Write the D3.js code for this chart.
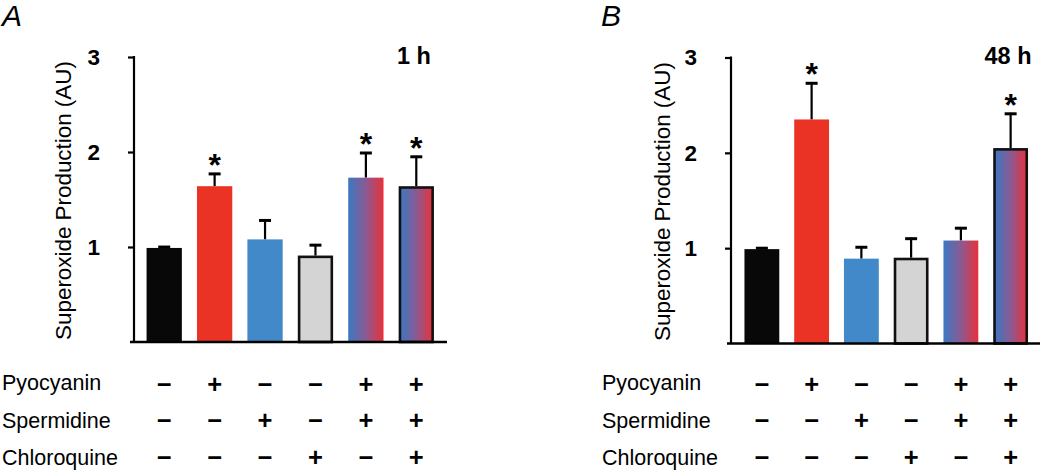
<!DOCTYPE html>
<html>
<head>
<meta charset="utf-8">
<script src="https://cdn.jsdelivr.net/npm/d3@7"></script>
<style>
  html, body { margin: 0; padding: 0; background: #fff; }
  svg { display: block; }
  text { font-family: "Liberation Sans", Arial, Helvetica, sans-serif; fill: #000; }
</style>
</head>
<body>
<svg id="chart" width="1050" height="472"></svg>
<script>
// ---------------- DATA ----------------
const groups = ["Control", "Pyocyanin", "Spermidine", "Chloroquine", "Pyo+Spd", "Pyo+Spd+CQ"];
const treatmentNames = ["Pyocyanin", "Spermidine", "Chloroquine"];
const pyocyaninRow   = ["−", "+", "−", "−", "+", "+"];
const spermidineRow  = ["−", "−", "+", "−", "+", "+"];
const chloroquineRow = ["−", "−", "−", "+", "−", "+"];

const means1h  = [0.99, 1.64, 1.08, 0.91, 1.73, 1.64];
const errors1h = [0.02, 0.14, 0.21, 0.12, 0.27, 0.32];
const signif1h = [false, true, false, false, true, true];

const means48h  = [0.99, 2.35, 0.89, 0.90, 1.08, 2.05];
const errors48h = [0.02, 0.39, 0.13, 0.21, 0.14, 0.37];
const signif48h = [false, true, false, false, false, true];

const yTicks = [1, 2, 3];
const yTitle = "Superoxide Production (AU)";
const panelLetters = ["A", "B"];
const timeLabels = ["1 h", "48 h"];

// ---------------- STYLE ----------------
const barStyles = [
  { fill: "#070807", stroke: null },
  { fill: "#ea3324", stroke: null },
  { fill: "#4189c9", stroke: null },
  { fill: "#d4d4d4", stroke: "#111" },
  { fill: "url(#gradBR)", stroke: null },
  { fill: "url(#gradBR)", stroke: "#111" }
];

const svg = d3.select("#chart");
const defs = svg.append("defs");
const grad = defs.append("linearGradient").attr("id", "gradBR")
  .attr("x1", "0%").attr("x2", "100%").attr("y1", "0%").attr("y2", "0%");
grad.append("stop").attr("offset", "0%").attr("stop-color", "#3a78c2");
grad.append("stop").attr("offset", "50%").attr("stop-color", "#8a5a93");
grad.append("stop").attr("offset", "100%").attr("stop-color", "#e8313a");

const panels = [
  { letter: panelLetters[0], time: timeLabels[0], means: means1h, errors: errors1h, signif: signif1h,
    axisX: 134, yTop: 57, yBase: 342, band: [139, 441.5], axisEnd: 447,
    letterX: 2, titleX: 71, timeX: 414, labelX: 2 },
  { letter: panelLetters[1], time: timeLabels[1], means: means48h, errors: errors48h, signif: signif48h,
    axisX: 731, yTop: 57.5, yBase: 343.5, band: [737, 1035.5], axisEnd: 1040,
    letterX: 601, titleX: 670, timeX: 1008, labelX: 602 }
];

const rows = [pyocyaninRow, spermidineRow, chloroquineRow];
const rowBaselines = [390, 427.5, 465];
const symbolCenters = [384, 420.5, 457.5];
const symSize = 25.5;

panels.forEach(p => {
  const g = svg.append("g");
  const x = d3.scaleBand().domain(groups).range(p.band).paddingInner(0.3).paddingOuter(0.15);
  const y = d3.scaleLinear().domain([0, 3]).range([p.yBase, p.yTop]);

  // panel letter
  g.append("text").attr("x", p.letterX).attr("y", 26)
    .attr("font-size", 30).attr("font-style", "italic").text(p.letter);

  // time label
  g.append("text").attr("x", p.timeX).attr("y", 64)
    .attr("text-anchor", "middle").attr("font-size", 23.5).attr("font-weight", "bold").text(p.time);

  // y axis
  const yAxis = d3.axisLeft(y).tickValues(yTicks).tickFormat(d3.format("d"))
    .tickSize(6).tickPadding(28);
  const ag = g.append("g").attr("transform", `translate(${p.axisX},0)`).call(yAxis);
  ag.select(".domain").remove();
  ag.selectAll(".tick line").attr("stroke", "#000").attr("stroke-width", 2.2);
  ag.selectAll(".tick text").attr("font-size", 22.5).attr("font-weight", "bold")
    .attr("font-family", "Liberation Sans, Arial, sans-serif").attr("fill", "#000");
  g.append("line").attr("x1", p.axisX).attr("x2", p.axisX)
    .attr("y1", y(3) - 1).attr("y2", y(0)).attr("stroke", "#000").attr("stroke-width", 2.2);

  // y title
  g.append("text")
    .attr("transform", `translate(${p.titleX},${(p.yTop + p.yBase) / 2 + 1}) rotate(-90)`)
    .attr("text-anchor", "middle").attr("font-size", 22.4).text(yTitle);

  // bars
  groups.forEach((grp, i) => {
    const st = barStyles[i];
    const v = p.means[i];
    const bx = x(grp), bw = x.bandwidth();
    const cx = bx + bw / 2;
    // error bar (upwards only)
    const yTopErr = y(v + p.errors[i]);
    g.append("line").attr("x1", cx).attr("x2", cx).attr("y1", y(v)).attr("y2", yTopErr)
      .attr("stroke", "#000").attr("stroke-width", 2.2);
    g.append("line").attr("x1", cx - 6).attr("x2", cx + 6).attr("y1", yTopErr + 1).attr("y2", yTopErr + 1)
      .attr("stroke", "#000").attr("stroke-width", 3);
    if (st.stroke) {
      const sw = 2.6;
      g.append("rect").attr("x", bx + sw / 2).attr("width", bw - sw)
        .attr("y", y(v) + sw / 2).attr("height", y(0) - y(v) - sw / 2)
        .attr("fill", st.fill).attr("stroke", st.stroke).attr("stroke-width", sw);
    } else {
      g.append("rect").attr("x", bx).attr("width", bw)
        .attr("y", y(v)).attr("height", y(0) - y(v)).attr("fill", st.fill);
    }
    if (p.signif[i]) {
      g.append("text").attr("x", cx).attr("y", yTopErr + 3)
        .attr("text-anchor", "middle").attr("font-size", 32).attr("font-weight", "bold").text("*");
    }
  });

  // x baseline
  g.append("line").attr("x1", p.axisX - 4).attr("x2", p.axisEnd)
    .attr("y1", y(0)).attr("y2", y(0)).attr("stroke", "#000").attr("stroke-width", 2.4);

  // treatment table
  treatmentNames.forEach((name, r) => {
    g.append("text").attr("x", p.labelX).attr("y", rowBaselines[r])
      .attr("font-size", 21.5).text(name);
    rows[r].forEach((sym, i) => {
      const cx = x(groups[i]) + x.bandwidth() / 2;
      g.append("text").attr("x", cx)
        .attr("y", symbolCenters[r] + 0.34 * symSize)
        .attr("text-anchor", "middle").attr("font-size", symSize).attr("font-weight", "bold")
        .attr("font-family", "DejaVu Sans, sans-serif").text(sym);
    });
  });
});
</script>
</body>
</html>
